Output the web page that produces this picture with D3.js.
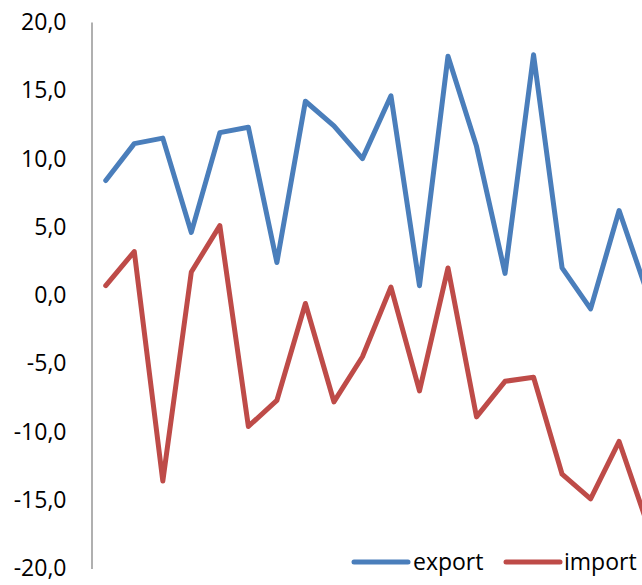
<!DOCTYPE html>
<html>
<head>
<meta charset="utf-8">
<script src="https://cdn.jsdelivr.net/npm/d3@7"></script>
<style>
  html, body { margin: 0; padding: 0; background: #fff; overflow: hidden; }
  svg { display: block; font-family: "Open Sans", "Liberation Sans", sans-serif; }
</style>
</head>
<body>
<svg id="chart" width="642" height="585"></svg>
<script>
const categories = ["1","2","3","4","5","6","7","8","9","10","11","12","13","14","15","16","17","18","19","20"];
const exportValues = [8.4, 11.1, 11.5, 4.6, 11.9, 12.3, 2.4, 14.2, 12.4, 10.0, 14.6, 0.7, 17.5, 10.9, 1.6, 17.6, 2.0, -1.0, 6.2, 0.1];
const importValues = [0.7, 3.2, -13.6, 1.7, 5.1, -9.6, -7.7, -0.6, -7.8, -4.5, 0.6, -7.0, 2.0, -8.9, -6.3, -6.0, -13.1, -14.9, -10.7, -16.8];
const yTicks = [-20, -15, -10, -5, 0, 5, 10, 15, 20];
const seriesNames = ["export", "import"];
const seriesColors = ["#4A7EBB", "#BE4B48"];

const svg = d3.select("#chart");
const axisX = 91.5;
const step = 28.52;

const x = d3.scaleBand()
  .domain(categories)
  .range([axisX, axisX + step * categories.length])
  .paddingInner(0).paddingOuter(0);

const y = d3.scaleLinear().domain([-20, 20]).range([568.5, 22]);

// Y axis
const yAxis = d3.axisLeft(y)
  .tickValues(yTicks)
  .tickSize(0)
  .tickPadding(25)
  .tickFormat(d => d3.format(".1f")(d).replace(".", ",").replace("−", "-"));

const gy = svg.append("g")
  .attr("transform", `translate(${axisX},0)`)
  .call(yAxis);
gy.select(".domain").attr("stroke", "#868686").attr("stroke-width", 1.3);
gy.selectAll("text")
  .attr("fill", "#000")
  .style("font-size", "23px")
  .style("font-family", "'Open Sans', 'Liberation Sans', sans-serif");

const line = d3.line()
  .x((d, i) => x(categories[i]) + x.bandwidth() / 2)
  .y(d => y(d));

[exportValues, importValues].forEach((vals, k) => {
  svg.append("path")
    .datum(vals)
    .attr("fill", "none")
    .attr("stroke", seriesColors[k])
    .attr("stroke-width", 5)
    .attr("stroke-linejoin", "round")
    .attr("stroke-linecap", "round")
    .attr("d", line);
});

// Legend
const legendItems = [
  { x1: 354, x2: 408, tx: 413 },
  { x1: 506, x2: 560, tx: 564 }
];
legendItems.forEach((it, k) => {
  svg.append("line")
    .attr("x1", it.x1).attr("x2", it.x2)
    .attr("y1", 562).attr("y2", 562)
    .attr("stroke", seriesColors[k])
    .attr("stroke-width", 5)
    .attr("stroke-linecap", "round");
  svg.append("text")
    .attr("x", it.tx).attr("y", 570)
    .attr("fill", "#000")
    .style("font-size", "23px")
    .text(seriesNames[k]);
});
</script>
</body>
</html>
